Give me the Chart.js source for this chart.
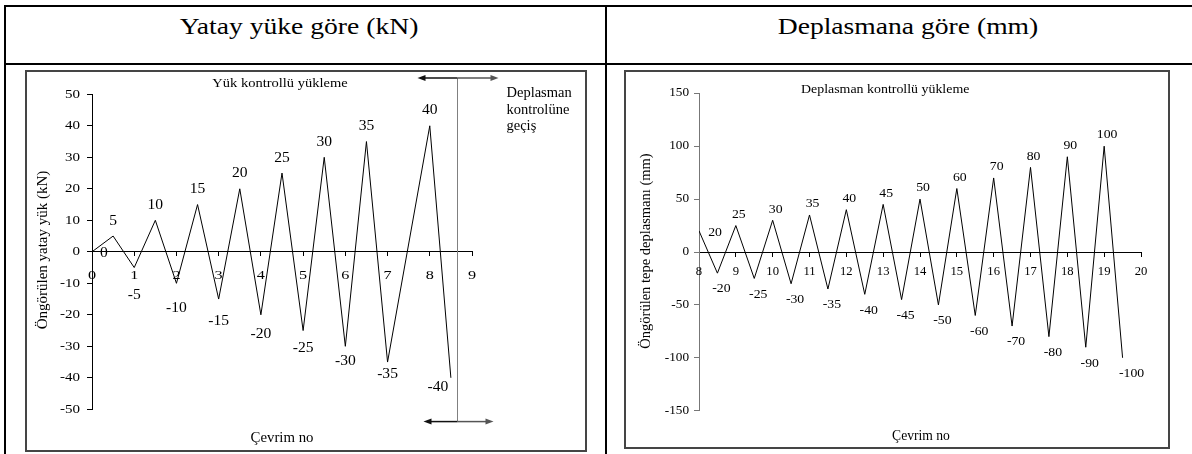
<!DOCTYPE html>
<html>
<head>
<meta charset="utf-8">
<script src="https://cdn.jsdelivr.net/npm/chart.js@4.4.0/dist/chart.umd.min.js"></script>
<style>
  body { margin: 0; background: #fff; }
  #page { position: relative; width: 1192px; height: 454px; overflow: hidden; font-family: "Liberation Serif", "Times New Roman", serif; }
  .ln { position: absolute; background: #000; }
  .hd { position: absolute; top: 15px; font-size: 23px; line-height: 23px; white-space: nowrap; transform: translateX(-50%) scaleX(1.2); }
  .frame { position: absolute; border: 2px solid #454545; box-sizing: border-box; }
  canvas { position: absolute; }
</style>
</head>
<body>
<div id="page">
  <div class="ln" style="left:4px;top:5px;width:1200px;height:2px"></div>
  <div class="ln" style="left:4px;top:63px;width:1200px;height:2px"></div>
  <div class="ln" style="left:4px;top:5px;width:2px;height:460px"></div>
  <div class="ln" style="left:605px;top:5px;width:2px;height:460px"></div>
  <div class="hd" style="left:299px">Yatay yüke göre (kN)</div>
  <div class="hd" style="left:908px">Deplasmana göre (mm)</div>
  <div class="frame" style="left:25px;top:70px;width:562px;height:382px"></div>
  <div class="frame" style="left:624px;top:70px;width:546px;height:379px"></div>
  <canvas id="load" width="558" height="377" style="left:27px;top:72px"></canvas>
  <canvas id="disp" width="540" height="373" style="left:627px;top:73px"></canvas>
</div>
<script>
// load controlled cycles (kN)
const loadCycles = [0, 0.5, 1, 1.5, 2, 2.5, 3, 3.5, 4, 4.5, 5, 5.5, 6, 6.5, 7, 8, 8.5];
const loadValues = [0, 5, -5, 10, -10, 15, -15, 20, -20, 25, -25, 30, -30, 35, -35, 40, -40];
const loadTickX = [0, 1, 2, 3, 4, 5, 6, 7, 8, 9];
const loadTickY = [-50, -40, -30, -20, -10, 0, 10, 20, 30, 40, 50];

// displacement controlled cycles (mm)
const dispCycles = [8, 8.5, 9, 9.5, 10, 10.5, 11, 11.5, 12, 12.5, 13, 13.5, 14, 14.5, 15, 15.5, 16, 16.5, 17, 17.5, 18, 18.5, 19, 19.5];
const dispValues = [20, -20, 25, -25, 30, -30, 35, -35, 40, -40, 45, -45, 50, -50, 60, -60, 70, -70, 80, -80, 90, -90, 100, -100];
const dispTickX = [8, 9, 10, 11, 12, 13, 14, 15, 16, 17, 18, 19, 20];
const dispTickY = [-150, -100, -50, 0, 50, 100, 150];

const FONT = '"Liberation Serif", "Times New Roman", serif';

// text and label placement, page coordinates
const notes = {
  load: {
    ox: 27, oy: 72,
    xTick: { size: 13.5, sx: 1.2, dy: 23.5 },
    yTick: { size: 12.5, sx: 1.2, gap: 12 },
    label: { size: 13.8, sx: 1.13, firstDx: 12, firstDy: 1.5, peakDx: 0, peakDy: -15, troughDx: 0, troughBase: 30, troughSlope: 0.5, lastDx: -13 },
    yTitle: { text: 'Öngörülen yatay yük (kN)', x: 43.5, y: 250, size: 15 },
    texts: [
      { t: 'Yük kontrollü yükleme', x: 280, y: 87, size: 12.5, sx: 1.16, align: 'center' },
      { t: 'Çevrim no', x: 282, y: 441.5, size: 13.6, sx: 1.09, align: 'center' },
      { t: 'Deplasman', x: 506.5, y: 97, size: 14.5, sx: 1, align: 'left' },
      { t: 'kontrolüne', x: 506.5, y: 113.5, size: 14.5, sx: 1, align: 'left' },
      { t: 'geçiş', x: 506.5, y: 130, size: 14.5, sx: 1, align: 'left' }
    ],
    marker: { x: 8.65, top: 55.2, bottom: -53.9, up: [40, 41], down: [34, 36] }
  },
  disp: {
    ox: 627, oy: 73,
    xTick: { size: 11.5, sx: 1.1, dy: 20 },
    yTick: { size: 11.5, sx: 1.15, gap: 10 },
    label: { size: 12.5, sx: 1.1, firstDx: 16, firstDy: 2, peakDx: 3, peakDy: -11, troughDx: 4, troughBase: 16, troughSlope: 0, lastDx: 5 },
    yTitle: { text: 'Öngörülen tepe deplasmanı (mm)', x: 646, y: 251, size: 14.5 },
    texts: [
      { t: 'Deplasman kontrollü yükleme', x: 801, y: 93, size: 13.5, sx: 1.03, align: 'left' },
      { t: 'Çevrim no', x: 921, y: 439.5, size: 13.6, sx: 1, align: 'center' }
    ]
  }
};

function drawText(ctx, txt, x, y, size, sx, align, base) {
  ctx.save();
  ctx.font = size + 'px ' + FONT;
  ctx.textAlign = align || 'center';
  ctx.textBaseline = base || 'middle';
  ctx.translate(x, y);
  ctx.scale(sx, 1);
  ctx.fillText(txt, 0, 0);
  ctx.restore();
}

function arrow(ctx, x0, x1, y, color) {
  const d = Math.sign(x1 - x0);
  ctx.strokeStyle = color;
  ctx.fillStyle = color;
  ctx.lineWidth = 1.5;
  ctx.beginPath();
  ctx.moveTo(x0, y);
  ctx.lineTo(x1 - d * 6, y);
  ctx.stroke();
  ctx.beginPath();
  ctx.moveTo(x1, y);
  ctx.lineTo(x1 - d * 8, y - 3);
  ctx.lineTo(x1 - d * 8, y + 3);
  ctx.closePath();
  ctx.fill();
}

const cycleText = {
  id: 'cycleText',
  afterDraw(chart) {
    const n = notes[chart.canvas.id];
    const ctx = chart.ctx;
    const xs = chart.scales.x, ys = chart.scales.y;
    const zero = ys.getPixelForValue(0);
    ctx.save();
    ctx.fillStyle = '#000';

    xs.ticks.forEach(t => drawText(ctx, String(t.value), xs.getPixelForValue(t.value), zero + n.xTick.dy, n.xTick.size, n.xTick.sx));
    ys.ticks.forEach(t => drawText(ctx, String(t.value), xs.left - n.yTick.gap, ys.getPixelForValue(t.value), n.yTick.size, n.yTick.sx, 'right'));

    const L = n.label;
    const pts = chart.data.datasets[0].data;
    chart.getDatasetMeta(0).data.forEach((el, i) => {
      const v = pts[i].y;
      let dx, dy;
      if (i === 0) { dx = L.firstDx; dy = L.firstDy; }
      else if (v > 0) { dx = L.peakDx; dy = L.peakDy; }
      else { dx = L.troughDx; dy = L.troughBase - L.troughSlope * Math.abs(v); }
      if (i === pts.length - 1) dx += L.lastDx;
      ctx.fillStyle = '#000';
      drawText(ctx, String(v), el.x + dx, el.y + dy, L.size, L.sx);
    });

    n.texts.forEach(t => {
      ctx.fillStyle = '#000';
      drawText(ctx, t.t, t.x - n.ox, t.y - n.oy, t.size, t.sx, t.align, 'alphabetic');
    });

    const yt = n.yTitle;
    ctx.save();
    ctx.translate(yt.x - n.ox, yt.y - n.oy);
    ctx.rotate(-Math.PI / 2);
    ctx.fillStyle = '#000';
    ctx.font = yt.size + 'px ' + FONT;
    ctx.textAlign = 'center';
    ctx.textBaseline = 'middle';
    ctx.fillText(yt.text, 0, 0);
    ctx.restore();

    if (n.marker) {
      const m = n.marker;
      const mx = Math.round(xs.getPixelForValue(m.x)) + 0.5;
      const y1 = ys.getPixelForValue(m.top), y2 = ys.getPixelForValue(m.bottom);
      ctx.strokeStyle = '#808080';
      ctx.lineWidth = 1;
      ctx.beginPath();
      ctx.moveTo(mx, y1);
      ctx.lineTo(mx, y2);
      ctx.stroke();
      arrow(ctx, mx, mx - m.up[0], y1, '#111');
      arrow(ctx, mx, mx + m.up[1], y1, '#555');
      arrow(ctx, mx, mx - m.down[0], y2, '#111');
      arrow(ctx, mx, mx + m.down[1], y2, '#555');
    }
    ctx.restore();
  }
};

function build(id, cycles, values, tickX, tickY, box) {
  const points = cycles.map((x, i) => ({ x: x, y: values[i] }));
  return new Chart(document.getElementById(id), {
    type: 'line',
    data: {
      datasets: [{
        data: points,
        borderColor: '#000',
        borderWidth: 1,
        pointRadius: 0,
        tension: 0,
        fill: false,
      }],
    },
    options: {
      responsive: false,
      animation: false,
      events: [],
      layout: { padding: box.pad },
      plugins: {
        legend: { display: false },
        tooltip: { enabled: false },
      },
      scales: {
        x: {
          type: 'linear',
          min: tickX[0],
          max: tickX[tickX.length - 1],
          position: { y: 0 },
          afterBuildTicks: (s) => { s.ticks = tickX.map(v => ({ value: v })); },
          afterFit: (s) => { s.height = 0; },
          ticks: { display: false },
          grid: { drawOnChartArea: false, tickLength: 4, color: '#000' },
          border: { color: '#000', width: 1 },
        },
        y: {
          type: 'linear',
          min: tickY[0],
          max: tickY[tickY.length - 1],
          afterBuildTicks: (s) => { s.ticks = tickY.map(v => ({ value: v })); },
          afterFit: (s) => { s.width = box.yw; },
          ticks: { display: false },
          grid: { drawOnChartArea: false, tickLength: 5, color: box.yColor },
          border: { color: box.yColor, width: 1 },
        },
      },
    },
    plugins: [cycleText],
  });
}

build('load', loadCycles, loadValues, loadTickX, loadTickY, {
  pad: { left: 0, top: 22.3, right: 113, bottom: 39.7 }, yw: 65, yColor: '#000'
});
build('disp', dispCycles, dispValues, dispTickX, dispTickY, {
  pad: { left: 0, top: 20.3, right: 26, bottom: 35.3 }, yw: 72, yColor: '#777'
});
</script>
</body>
</html>
